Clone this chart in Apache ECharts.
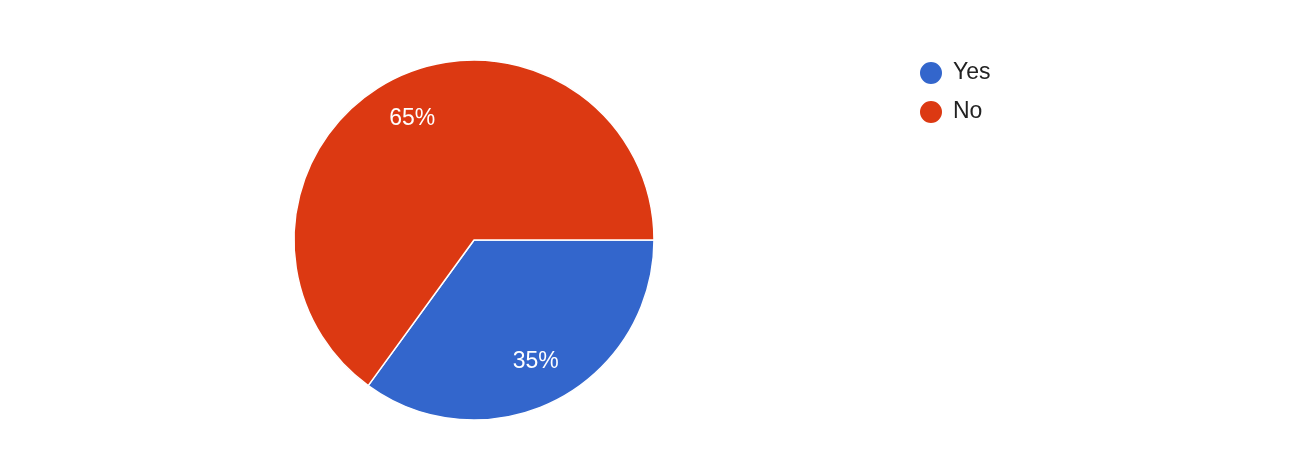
<!DOCTYPE html>
<html>
<head>
<meta charset="utf-8">
<script src="https://cdn.jsdelivr.net/npm/echarts@6/dist/echarts.min.js"></script>
<style>
html,body{margin:0;padding:0;background:#fff;}
#main{width:1298px;height:466px;}
</style>
</head>
<body>
<div id="main"></div>
<script>
var categories = ['Yes', 'No'];
var values = [35, 65];
var colors = ['#3366cc', '#dc3912'];

var chart = echarts.init(document.getElementById('main'));
var data = categories.map(function (c, i) {
  return { name: c, value: values[i], itemStyle: { color: colors[i] } };
});
var labelData = categories.map(function (c, i) {
  return { name: c, value: values[i] };
});
chart.setOption({
  animation: false,
  backgroundColor: '#ffffff',
  legend: {
    orient: 'vertical',
    left: 918,
    top: 60,
    padding: 0,
    icon: 'circle',
    itemWidth: 24,
    itemHeight: 24,
    itemGap: 13,
    textStyle: { fontFamily: '"Liberation Sans", Arial, sans-serif', fontSize: 23, color: '#222222', padding: [0, 0, 0, 5] },
    data: categories
  },
  series: [
    {
      type: 'pie',
      center: [474, 240],
      radius: [0, 180],
      startAngle: 0,
      clockwise: true,
      label: { show: false },
      labelLine: { show: false },
      itemStyle: { borderColor: '#ffffff', borderWidth: 1.5 },
      data: data
    },
    {
      type: 'pie',
      center: [474, 240],
      radius: [0, 266],
      startAngle: 0,
      clockwise: true,
      silent: true,
      legendHoverLink: false,
      itemStyle: { color: 'rgba(0,0,0,0)' },
      label: {
        show: true,
        position: 'inside',
        formatter: function (p) { return p.value + '%'; },
        color: '#ffffff',
        fontFamily: '"Liberation Sans", Arial, sans-serif',
        fontSize: 23
      },
      labelLine: { show: false },
      data: labelData
    }
  ]
});
</script>
</body>
</html>
